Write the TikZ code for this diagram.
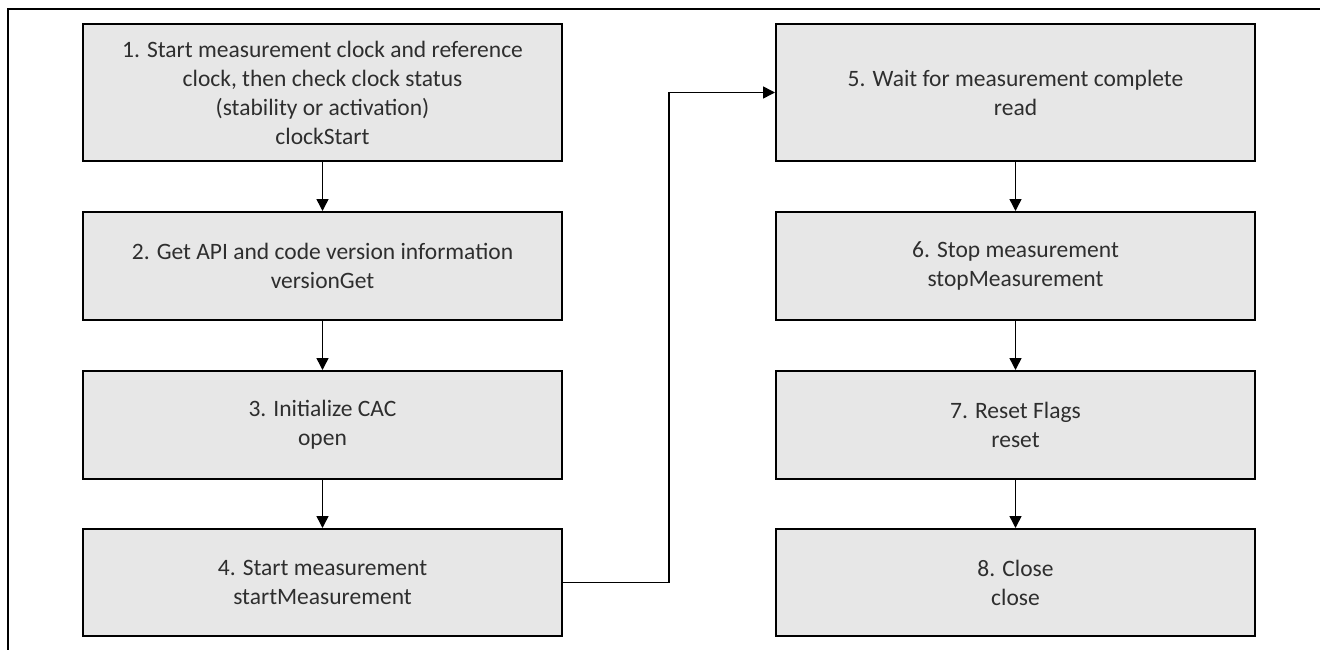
\documentclass[tikz,border=0pt]{standalone}
\usepackage{fontspec}
\setmainfont{Carlito}
\usetikzlibrary{arrows.meta}
\definecolor{boxfill}{HTML}{E7E7E7}
\definecolor{txt}{HTML}{2E2E2E}
\begin{document}
\begin{tikzpicture}[x=1pt,y=-1pt,
 stepbox/.style={draw=black,line width=2pt,fill=boxfill,minimum width=479pt,inner sep=0pt,
   align=center,text=txt,font=\fontsize{23.5}{29}\selectfont},
 flow/.style={line width=1.5pt,-{Triangle[length=12pt,width=12pt]}}]
\useasboundingbox (0,0) rectangle (1320,650);
\draw[line width=2pt] (8,650) -- (8,9) -- (1320,9);
% left column
\node[stepbox,minimum height=137pt] (b1) at (322.5,92.5)
  {1. Start measurement clock and reference\\clock, then check clock status\\(stability or activation)\\clockStart};
\node[stepbox,minimum height=108pt] (b2) at (322.5,266)
  {2. Get API and code version information\\versionGet};
\node[stepbox,minimum height=108pt] (b3) at (322.5,425)
  {3. Initialize CAC\\open};
\node[stepbox,minimum height=107pt] (b4) at (322.5,582.5)
  {4. Start measurement\\startMeasurement};
% right column
\node[stepbox,minimum height=137pt] (b5) at (1015.5,92.5)
  {5. Wait for measurement complete\\read};
\node[stepbox,minimum height=108pt] (b6) at (1015.5,266)
  {6. Stop measurement\\stopMeasurement};
\node[stepbox,minimum height=108pt] (b7) at (1015.5,425)
  {7. Reset Flags\\reset};
\node[stepbox,minimum height=107pt] (b8) at (1015.5,582.5)
  {8. Close\\close};
% connectors
\draw[flow] (b1) -- (b2);
\draw[flow] (b2) -- (b3);
\draw[flow] (b3) -- (b4);
\draw[flow] (b5) -- (b6);
\draw[flow] (b6) -- (b7);
\draw[flow] (b7) -- (b8);
\coordinate (elbow) at (669,582.5);
\draw[flow] (b4.east) -- (elbow) |- (b5.west);
\end{tikzpicture}
\end{document}
